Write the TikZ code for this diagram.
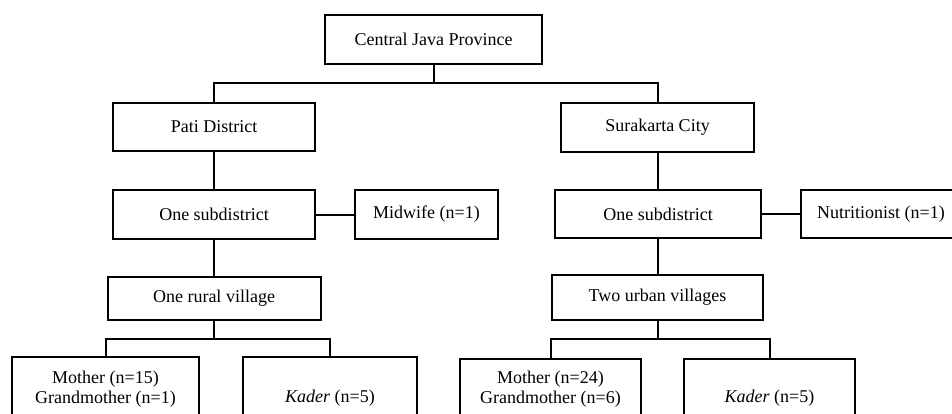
\documentclass[tikz,border=0pt]{standalone}
\usepackage{fontspec}
\setmainfont{Liberation Serif}
\begin{document}
\begin{tikzpicture}[x=1pt,y=-1pt,
  box/.style={draw=black,line width=2pt,rectangle,inner sep=0pt,
    font=\fontsize{18}{20}\selectfont,align=center},
  txt/.style={inner sep=0pt,font=\fontsize{18}{19.5}\selectfont,align=center},
  link/.style={draw=black,line width=2pt}]
\clip (0,0) rectangle (952,414);
% boxes
\node[box,minimum width=217pt,minimum height=49pt] (top) at (433.5,39.5) {Central Java Province};
\node[box,minimum width=202pt,minimum height=48pt] (pati) at (214,127) {Pati District};
\node[box,minimum width=193pt,minimum height=49pt] (sura) at (657.5,127.5) {Surakarta City};
\node[box,minimum width=202pt,minimum height=49pt] (sub1) at (214,214.5) {One subdistrict};
\node[box,minimum width=143pt,minimum height=49pt] (mid) at (426.5,214.5) {Midwife (n=1)};
\node[box,minimum width=206pt,minimum height=48pt] (sub2) at (658,214) {One subdistrict};
\node[box,minimum width=160pt,minimum height=48pt] (nut) at (881,214) {Nutritionist (n=1)};
\node[box,minimum width=213pt,minimum height=43pt] (rural) at (214,298.5) {One rural village};
\node[box,minimum width=211pt,minimum height=45pt] (urban) at (657.5,297.5) {Two urban villages};
\node[box,minimum width=187pt,minimum height=82pt] (m1) at (105.5,398) {};
\node[txt] (m1t) at (105.5,389) {Mother (n=15)\\Grandmother (n=1)};
\node[box,minimum width=174pt,minimum height=82pt] (k1) at (330,398) {\textit{Kader} (n=5)};
\node[box,minimum width=181pt,minimum height=82pt] (m2) at (550.5,400) {};
\node[txt] (m2t) at (550.5,389) {Mother (n=24)\\Grandmother (n=6)};
\node[box,minimum width=171pt,minimum height=82pt] (k2) at (769.5,400) {};
\node[txt] (k2t) at (769.5,398) {\textit{Kader} (n=5)};
% junctions
\coordinate (j0) at (433.5,83);
\coordinate (j1) at (214,339);
\coordinate (j2) at (657.5,339.3);
% connectors
\draw[link] (top.south) -- (j0);
\draw[link] (pati.north) |- (j0) -| (sura.north);
\draw[link] (pati.south) -- (sub1.north);
\draw[link] (sub1.east) -- (mid.west);
\draw[link] (sura.south) -- (sura.south |- sub2.north);
\draw[link] (sub2.east) -- (nut.west);
\draw[link] (sub1.south) -- (rural.north);
\draw[link] (sub2.south -| urban.north) -- (urban.north);
\draw[link] (rural.south) -- (j1);
\draw[link] (m1.north) |- (j1) -| (k1.north);
\draw[link] (urban.south) -- (j2);
\draw[link] (m2.north) |- (j2) -| (k2.north);
\end{tikzpicture}
\end{document}
